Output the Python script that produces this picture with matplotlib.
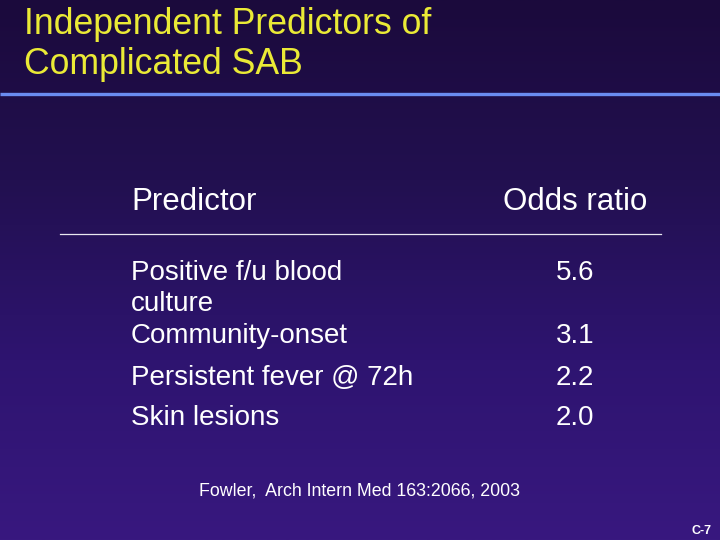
import matplotlib
matplotlib.use("Agg")
import matplotlib.pyplot as plt
import numpy as np
from matplotlib.colors import LinearSegmentedColormap

title_lines = ["Independent Predictors of", "Complicated SAB"]
header = ["Predictor", "Odds ratio"]
predictors = ["Positive f/u blood\nculture", "Community-onset", "Persistent fever @ 72h", "Skin lesions"]
odds_ratios = [5.6, 3.1, 2.2, 2.0]
citation = "Fowler,  Arch Intern Med 163:2066, 2003"
slide_id = "C-7"

W, H = 720, 540
fig = plt.figure(figsize=(7.2, 5.4), dpi=100)
ax = fig.add_axes([0, 0, 1, 1])
ax.set_xlim(0, W)
ax.set_ylim(H, 0)
ax.axis("off")

cmap = LinearSegmentedColormap.from_list("bg", ["#1b0a3c", "#221050", "#2e1470", "#38187f"])
grad = np.linspace(0, 1, 256).reshape(-1, 1)
ax.imshow(grad, cmap=cmap, extent=[0, W, H, 0], aspect="auto", zorder=0)

sans = ["Liberation Sans", "DejaVu Sans"]
yellow = "#eaea36"

ax.text(24.5, 34, title_lines[0], color=yellow, fontsize=25.7, family=sans, va="baseline", ha="left")
ax.text(24.5, 74, title_lines[1], color=yellow, fontsize=25.7, family=sans, va="baseline", ha="left")
ax.plot([0, W], [93.5, 93.5], color="#6a8cf0", lw=2.4, solid_capstyle="butt")

ax.text(131, 210, header[0], color="white", fontsize=22.5, family=sans, va="baseline")
ax.text(503, 210, header[1], color="white", fontsize=22.5, family=sans, va="baseline")
ax.plot([60, 661], [233.5, 233.5], color="#e8e8f0", lw=0.9)

row_baselines = [280, 343, 385, 425]
for name, val, yb in zip(predictors, odds_ratios, row_baselines):
    ax.text(131, yb, name.split("\n")[0], color="white", fontsize=20, family=sans, va="baseline")
    for k, extra in enumerate(name.split("\n")[1:]):
        ax.text(131, yb + 31 * (k + 1), extra, color="white", fontsize=20, family=sans, va="baseline")
    ax.text(556, yb, f"{val:.1f}", color="white", fontsize=20, family=sans, va="baseline")

ax.text(199, 496, citation, color="white", fontsize=12.8, family=sans, va="baseline")
ax.text(711, 534, slide_id, color="white", fontsize=9, family=sans, fontweight="bold", va="baseline", ha="right")

fig.savefig("out.png", dpi=100)
